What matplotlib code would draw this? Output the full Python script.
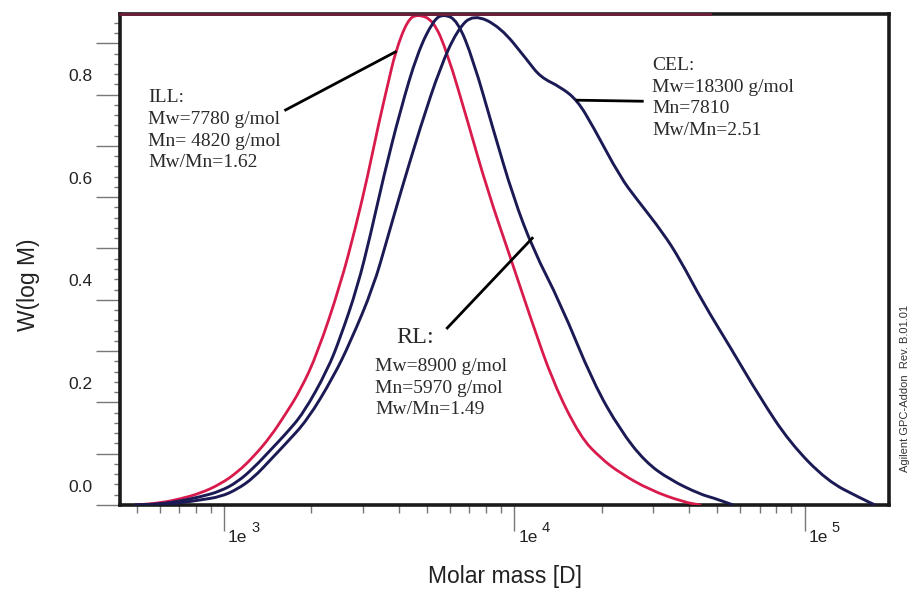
import matplotlib
matplotlib.use("Agg")
import numpy as np
import matplotlib.pyplot as plt
from matplotlib.path import Path
from matplotlib.patches import PathPatch
from matplotlib.transforms import ScaledTranslation
from matplotlib.ticker import LogLocator, MultipleLocator, NullFormatter

# ---------------- data (molar mass [D], W(log M)) ----------------
ill_M = [495, 604, 708, 830, 973, 1113, 1263, 1445, 1628, 1834, 2099, 2518, 2836,
         3119, 3402, 3684, 3894, 4282, 4636, 5263, 5882, 6889, 8074, 9687, 11354, 13624,
         16874, 19770, 23170, 29390, 38180, 43680]
ill_W = [0.0, 0.004, 0.012, 0.023, 0.041, 0.064, 0.094, 0.133, 0.177, 0.224, 0.296,
         0.430, 0.540, 0.639, 0.741, 0.825, 0.883, 0.945, 0.957, 0.945, 0.881, 0.750, 0.614,
         0.483, 0.366, 0.238, 0.133, 0.092, 0.062, 0.029, 0.006, 0.0]

rl_M = [495, 604, 708, 830, 973, 1113, 1263, 1445, 1628, 1878, 2271, 2518, 2881, 3194,
        3541, 4052, 4636, 5263, 5696, 6366, 7225, 8467, 9922, 11630, 14400, 18710,
        23170, 28250, 34430, 43680, 48420, 56750]
rl_W = [0.0, 0.002, 0.008, 0.016, 0.027, 0.045, 0.072, 0.107, 0.138, 0.179, 0.263, 0.327,
        0.425, 0.526, 0.639, 0.770, 0.881, 0.945, 0.957, 0.945, 0.867, 0.731, 0.600, 0.497,
        0.394, 0.238, 0.146, 0.084, 0.049, 0.021, 0.014, 0.0]

cel_M = [495, 604, 708, 830, 973, 1113, 1263, 1445, 1628, 1939, 2382, 2725, 3270, 3655,
         4052, 4747, 5564, 6366, 7225, 8950, 11084, 12290, 14400, 16480, 18710, 23170,
         26510, 32570, 37270, 44730, 55410, 70290, 89160, 119600, 155200, 174900]
cel_W = [0.0, 0.001, 0.004, 0.010, 0.016, 0.031, 0.053, 0.088, 0.119, 0.166, 0.25, 0.318,
         0.425, 0.520, 0.608, 0.737, 0.854, 0.926, 0.957, 0.932, 0.867, 0.834, 0.815, 0.789,
         0.737, 0.639, 0.595, 0.530, 0.478, 0.394, 0.308, 0.209, 0.121, 0.047, 0.014, 0.0]

# leader lines of the annotations
ill_lead_M, ill_lead_W = [1630, 3890], [0.770, 0.883]
rl_lead_M, rl_lead_W = [5875, 11530], [0.345, 0.520]
cel_lead_M, cel_lead_W = [16480, 27600], [0.789, 0.787]

ytick_vals = [0.0, 0.2, 0.4, 0.6, 0.8]
ytick_labels = ["0.0", "0.2", "0.4", "0.6", "0.8"]
xtick_vals = [1e3, 1e4, 1e5]
xtick_exps = ["3", "4", "5"]

ill_text = ["ILL:", "Mw=7780 g/mol", "Mn= 4820 g/mol", "Mw/Mn=1.62"]
rl_title = "RL:"
rl_text = ["Mw=8900 g/mol", "Mn=5970 g/mol", "Mw/Mn=1.49"]
cel_text = ["CEL:", "Mw=18300 g/mol", "Mn=7810", "Mw/Mn=2.51"]

RED = "#d81b4c"
NAVY = "#1b1a55"
SANS = ["Liberation Sans", "DejaVu Sans"]
SERIF = ["Liberation Serif", "DejaVu Serif"]

W, H = 913, 591
fig = plt.figure(figsize=(W / 100, H / 100), dpi=100)
ax = fig.add_axes([120 / W, 1 - 505 / H, (889 - 120) / W, (505 - 14) / H])
ax.set_xscale("log")
ax.set_xlim(438, 195400)
ax.set_ylim(0, 0.957)


def smooth_curve(ax, xs, ys, **kw):
    """Draw a smooth curve through the read points (quadratic Bezier via midpoints,
    midpoints taken in log-x so they sit halfway on the log axis)."""
    xs = np.asarray(xs, float)
    ys = np.asarray(ys, float)
    verts = [(xs[0], ys[0])]
    codes = [Path.MOVETO]
    mx = np.sqrt(xs[0] * xs[1]); my = (ys[0] + ys[1]) / 2
    verts.append((mx, my)); codes.append(Path.LINETO)
    for i in range(1, len(xs) - 1):
        mx = np.sqrt(xs[i] * xs[i + 1]); my = (ys[i] + ys[i + 1]) / 2
        verts += [(xs[i], ys[i]), (mx, my)]
        codes += [Path.CURVE3, Path.CURVE3]
    verts.append((xs[-1], ys[-1])); codes.append(Path.LINETO)
    patch = PathPatch(Path(verts, codes), fill=False, transform=ax.transData,
                      capstyle="round", joinstyle="round", **kw)
    ax.add_patch(patch)
    return patch


smooth_curve(ax, ill_M, ill_W, edgecolor=RED, lw=2.0, zorder=3)
smooth_curve(ax, rl_M, rl_W, edgecolor=NAVY, lw=2.1, zorder=4)
smooth_curve(ax, cel_M, cel_W, edgecolor=NAVY, lw=2.1, zorder=4)

for m, w in [(ill_lead_M, ill_lead_W), (rl_lead_M, rl_lead_W), (cel_lead_M, cel_lead_W)]:
    ax.plot(m, w, color="black", lw=2.0, zorder=5)

# spines
for s in ax.spines.values():
    s.set_linewidth(2.6)
    s.set_color("#1a1a1a")
# reddish overlay on the top frame (as in the reference)
ax.plot([438, 47100], [0.957, 0.957], color="#6e1f3a", lw=2.0, clip_on=False, zorder=6)

# ticks
ax.yaxis.set_major_locator(MultipleLocator(0.1))
ax.yaxis.set_minor_locator(MultipleLocator(0.02))
ax.xaxis.set_major_locator(LogLocator(base=10))
ax.xaxis.set_minor_locator(LogLocator(base=10, subs=range(2, 10)))
ax.xaxis.set_minor_formatter(NullFormatter())
ax.tick_params(axis="y", which="major", direction="out", length=17, width=1.0,
               color="#777777", labelleft=False)
ax.tick_params(axis="y", which="minor", direction="out", length=4, width=1.0, color="#777777")
ax.tick_params(axis="x", which="major", direction="out", length=19, width=1.0,
               color="#777777", labelbottom=False)
ax.tick_params(axis="x", which="minor", direction="out", length=6, width=1.0, color="#777777")

# y tick labels (drawn slightly above their ticks, as in the reference)
ytr = ax.get_yaxis_transform() + ScaledTranslation(-28 / 100, 18 / 100, fig.dpi_scale_trans)
for v, lab in zip(ytick_vals, ytick_labels):
    ax.text(0, v, lab, transform=ytr, ha="right", va="center", fontsize=12.5,
            family=SANS, color="#222222")

# x tick labels "1e" with superscript exponent
xtr1 = ax.get_xaxis_transform() + ScaledTranslation(4 / 100, -32 / 100, fig.dpi_scale_trans)
xtr2 = ax.get_xaxis_transform() + ScaledTranslation(27 / 100, -23 / 100, fig.dpi_scale_trans)
for v, e in zip(xtick_vals, xtick_exps):
    ax.text(v, 0, "1e", transform=xtr1, ha="left", va="center", fontsize=12.5,
            family=SANS, color="#222222")
    ax.text(v, 0, e, transform=xtr2, ha="left", va="center", fontsize=10.5,
            family=SANS, color="#222222")

# axis labels
fig.text(505 / W, 1 - 577 / H, "Molar mass [D]", ha="center", va="center",
         fontsize=16.5, family=SANS, color="#222222")
fig.text(28 / W, 1 - 285 / H, "W(log M)", ha="center", va="center", rotation=90,
         fontsize=16.5, family=SANS, color="#222222")
fig.text(905 / W, 1 - 388 / H, "Agilent GPC-Addon  Rev. B.01.01", ha="center", va="center",
         rotation=90, fontsize=8, family=SANS, color="#333333")

# annotations (baselines in pixels)
def put(lines, x, baselines, size):
    for t, b in zip(lines, baselines):
        fig.text(x / W, 1 - b / H, t, ha="left", va="baseline", fontsize=size,
                 family=SERIF, color="#2a2a2a")

put(ill_text, 148, [102, 124, 146, 167], 14)
put(cel_text, 652, [70, 92, 113, 135], 14)
put([rl_title], 396, [343], 17.5)
put(rl_text, 375, [371, 393, 414], 14)

fig.savefig("out.png", dpi=100)
